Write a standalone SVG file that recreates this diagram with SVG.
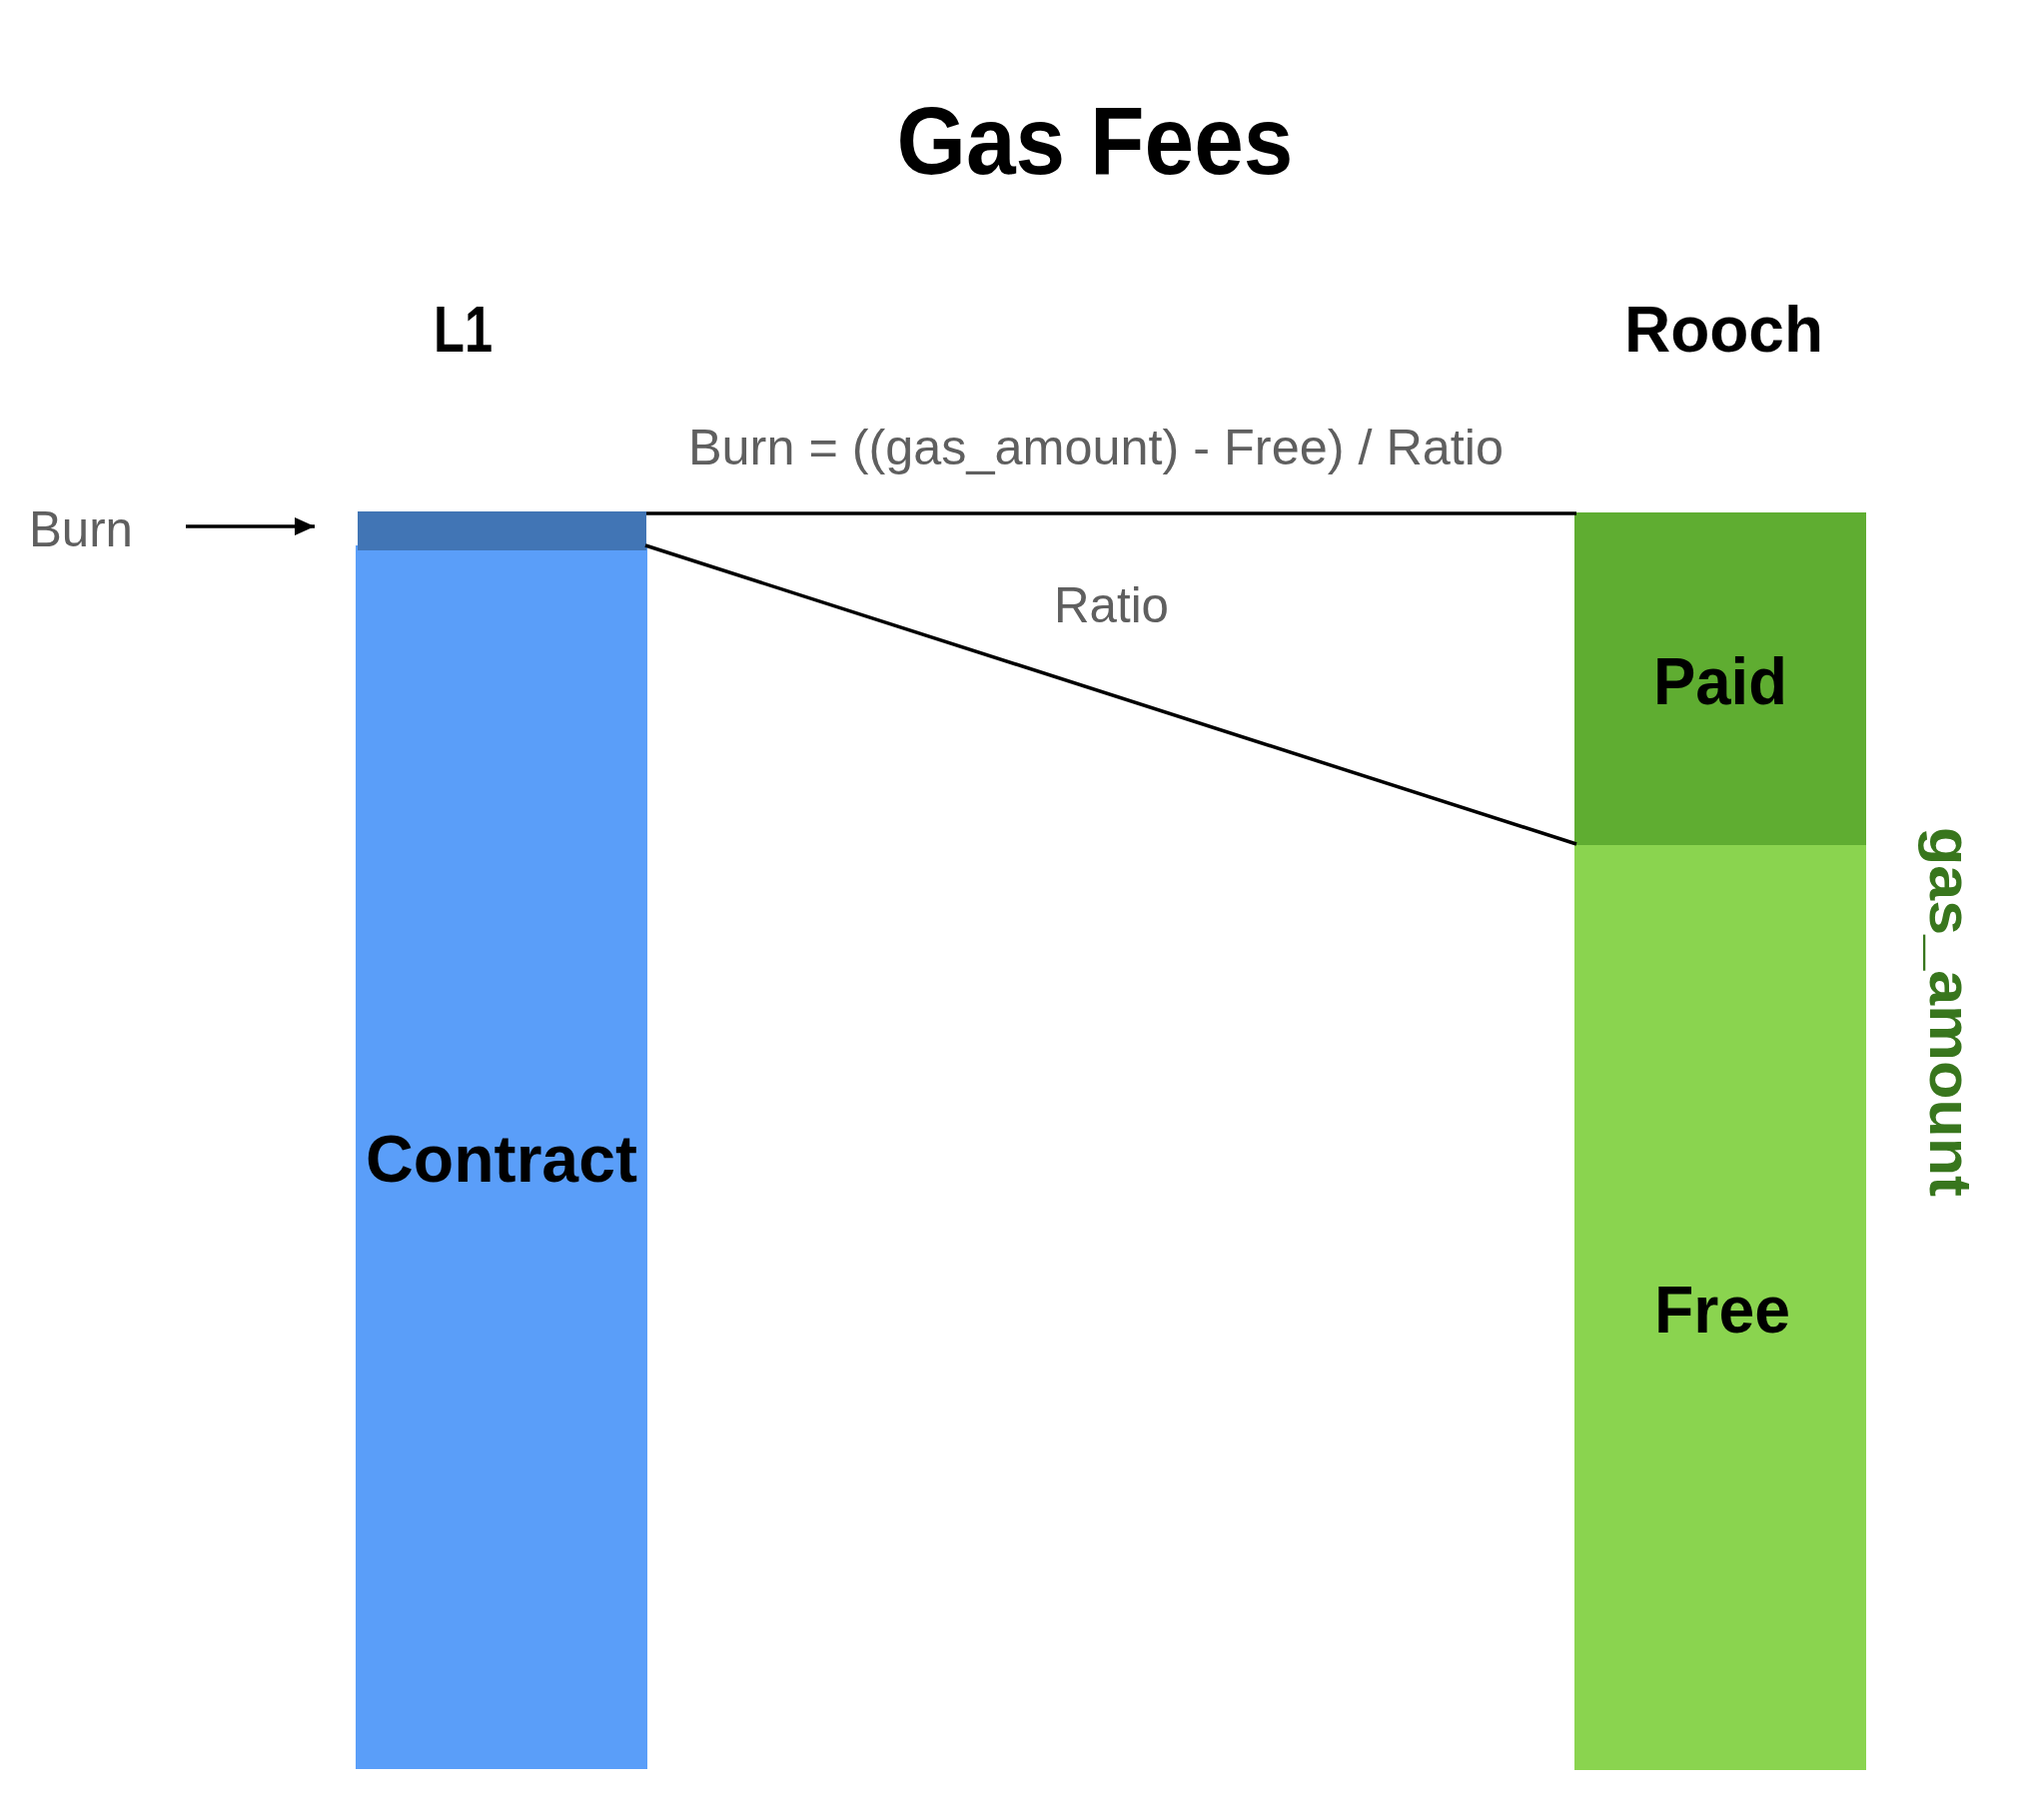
<svg xmlns="http://www.w3.org/2000/svg" width="2042" height="1822" viewBox="0 0 2042 1822">
<style>
.t{font-family:"Liberation Sans",Arial,sans-serif;}
.b{font-weight:bold;fill:#000;}
.g{fill:#5f5f5f;font-size:50px;}
.lbl{font-weight:bold;font-size:66px;fill:#000;text-anchor:middle;}
.ln{stroke:#000;stroke-width:3.5;fill:none;}
</style>
<defs>
<marker id="ah" markerWidth="20" markerHeight="18" refX="20" refY="9" orient="auto" markerUnits="userSpaceOnUse" viewBox="0 0 20 18">
<path d="M0,0 L20,9 L0,18 Z" fill="#000"/>
</marker>
</defs>
<rect width="2042" height="1822" fill="#fff"/>
<text class="t b" x="1096" y="174" font-size="96" text-anchor="middle" textLength="397" lengthAdjust="spacingAndGlyphs">Gas Fees</text>
<text class="t b" x="434" y="352" font-size="64" textLength="59" lengthAdjust="spacingAndGlyphs">L1</text>
<text class="t b" x="1626" y="352" font-size="64" textLength="199" lengthAdjust="spacingAndGlyphs">Rooch</text>
<text class="t g" x="689" y="465" textLength="816" lengthAdjust="spacingAndGlyphs">Burn = ((gas_amount) - Free) / Ratio</text>
<text class="t g" x="1055" y="623" textLength="115" lengthAdjust="spacingAndGlyphs">Ratio</text>
<text class="t g" x="29" y="547" textLength="104" lengthAdjust="spacingAndGlyphs">Burn</text>
<g id="contract">
<rect x="356" y="546" width="292" height="1225" fill="#5a9ef9"/>
<text class="t lbl" x="502" y="1183" textLength="272" lengthAdjust="spacingAndGlyphs">Contract</text>
</g>
<g id="burn">
<rect x="358" y="512" width="289" height="39" fill="#4175b5"/>
</g>
<g id="paid">
<rect x="1576" y="513" width="292" height="333" fill="#5fad31"/>
<text class="t lbl" x="1722" y="705" textLength="134" lengthAdjust="spacingAndGlyphs">Paid</text>
</g>
<g id="free">
<rect x="1576" y="846" width="292" height="926" fill="#8ad44f"/>
<text class="t lbl" x="1724" y="1334" textLength="136" lengthAdjust="spacingAndGlyphs">Free</text>
</g>
<g id="gas_amount">
<text class="t" x="0" y="0" font-size="60" font-weight="bold" fill="#38761d" textLength="370" lengthAdjust="spacingAndGlyphs" transform="translate(1932,828) rotate(90)">gas_amount</text>
</g>
<g id="connectors">
<line class="ln" x1="647" y1="514" x2="1578" y2="514"/>
<line class="ln" x1="646" y1="546" x2="1578" y2="845"/>
<line class="ln" x1="186" y1="527" x2="315" y2="527" marker-end="url(#ah)"/>
</g>
</svg>
